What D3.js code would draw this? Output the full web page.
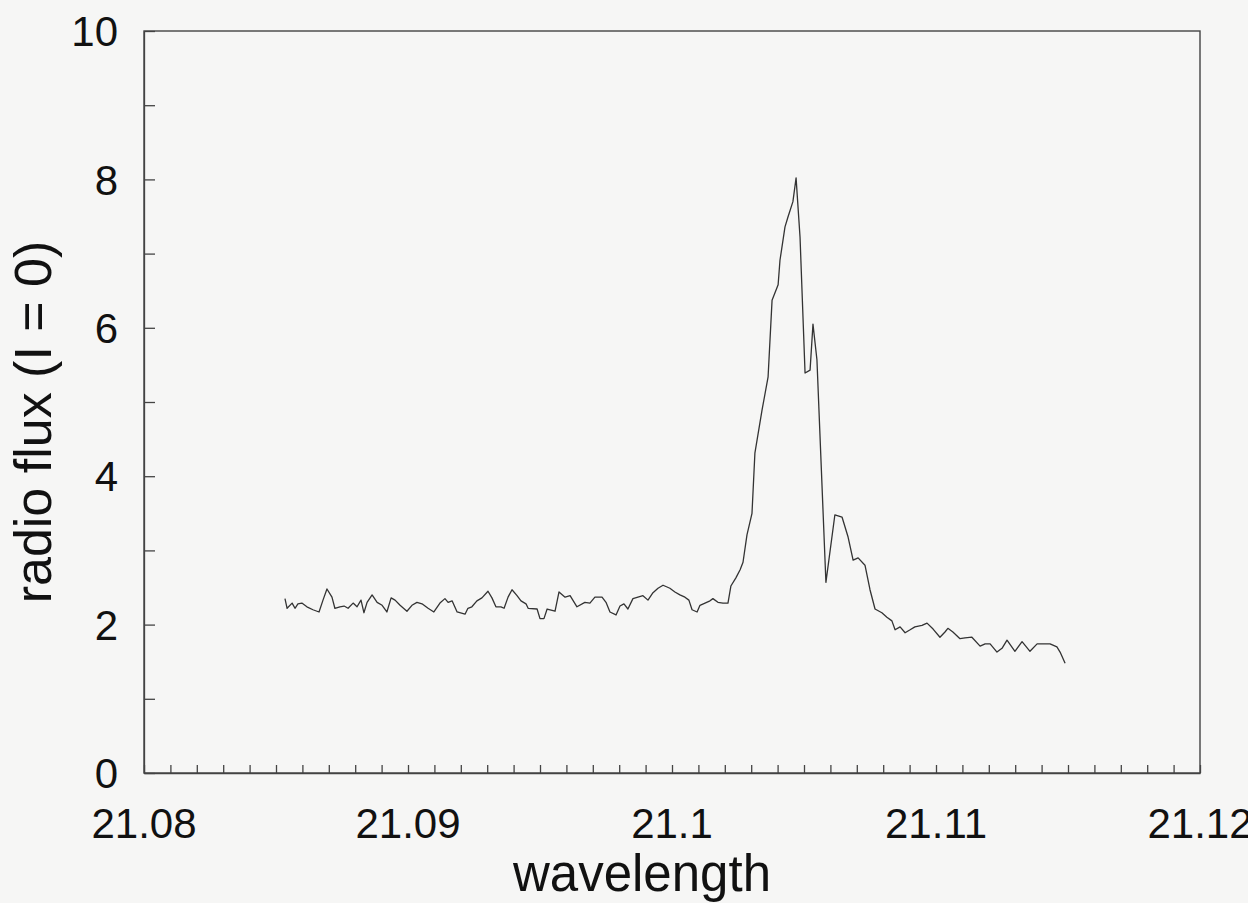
<!DOCTYPE html>
<html>
<head>
<meta charset="utf-8">
<script src="https://cdn.jsdelivr.net/npm/d3@7"></script>
<style>
    body { margin: 0; background: #f6f6f5; }
    svg { display: block; }
    text { font-family: "Liberation Sans", Arial, sans-serif; fill: #111; }
</style>
</head>
<body>
<svg width="1248" height="903"></svg>
<script>
// wavelength samples
const wavelength = [
    21.08534, 21.08542, 21.08561, 21.08572, 21.08583, 21.08598, 21.08617, 21.08640, 21.08663, 21.08678,
    21.08693, 21.08712, 21.08723, 21.08742, 21.08758, 21.08773, 21.08792, 21.08807, 21.08822, 21.08833,
    21.08845, 21.08864, 21.08883, 21.08902, 21.08920, 21.08936, 21.08951, 21.08970, 21.08996, 21.09015,
    21.09034, 21.09053, 21.09076, 21.09098, 21.09121, 21.09140, 21.09152, 21.09167, 21.09186, 21.09216,
    21.09227, 21.09242, 21.09261, 21.09280, 21.09303, 21.09318, 21.09333, 21.09352, 21.09364, 21.09379,
    21.09394, 21.09413, 21.09428, 21.09447, 21.09455, 21.09489, 21.09500, 21.09515, 21.09527, 21.09557,
    21.09572, 21.09595, 21.09614, 21.09640, 21.09670, 21.09689, 21.09708, 21.09735, 21.09750, 21.09765,
    21.09788, 21.09803, 21.09818, 21.09833, 21.09852, 21.09871, 21.09890, 21.09909, 21.09928, 21.09947,
    21.09966, 21.09992, 21.10011, 21.10030, 21.10049, 21.10064, 21.10076, 21.10095, 21.10106, 21.10125,
    21.10144, 21.10155, 21.10174, 21.10193, 21.10212, 21.10223, 21.10242, 21.10258, 21.10269, 21.10284,
    21.10303, 21.10314, 21.10341, 21.10364, 21.10379, 21.10402, 21.10409, 21.10428, 21.10439, 21.10458,
    21.10470, 21.10485, 21.10504, 21.10523, 21.10534, 21.10549, 21.10583, 21.10617, 21.10644, 21.10667,
    21.10686, 21.10705, 21.10731, 21.10750, 21.10769, 21.10795, 21.10814, 21.10833, 21.10845, 21.10864,
    21.10883, 21.10902, 21.10920, 21.10947, 21.10966, 21.10989, 21.11015, 21.11034, 21.11045, 21.11064,
    21.11091, 21.11110, 21.11136, 21.11167, 21.11186, 21.11205, 21.11231, 21.11250, 21.11269, 21.11299,
    21.11326, 21.11356, 21.11383, 21.11405, 21.11432, 21.11458, 21.11470, 21.11489
];
const flux = [
    2.35, 2.22, 2.29, 2.22, 2.28, 2.29, 2.24, 2.20, 2.17, 2.33,
    2.48, 2.37, 2.22, 2.24, 2.25, 2.22, 2.29, 2.24, 2.33, 2.16,
    2.30, 2.40, 2.30, 2.26, 2.17, 2.36, 2.33, 2.26, 2.18, 2.26,
    2.30, 2.28, 2.22, 2.17, 2.29, 2.35, 2.30, 2.32, 2.17, 2.14,
    2.22, 2.24, 2.32, 2.36, 2.45, 2.36, 2.24, 2.24, 2.22, 2.37,
    2.47, 2.39, 2.32, 2.28, 2.22, 2.21, 2.08, 2.08, 2.21, 2.18,
    2.44, 2.37, 2.39, 2.24, 2.30, 2.29, 2.37, 2.37, 2.30, 2.17,
    2.13, 2.25, 2.28, 2.21, 2.35, 2.37, 2.39, 2.33, 2.43, 2.49,
    2.53, 2.49, 2.44, 2.40, 2.37, 2.33, 2.20, 2.17, 2.26, 2.29,
    2.32, 2.35, 2.30, 2.29, 2.29, 2.52, 2.63, 2.74, 2.84, 3.21,
    3.50, 4.31, 4.89, 5.34, 6.37, 6.58, 6.91, 7.36, 7.49, 7.70,
    8.02, 7.22, 5.39, 5.43, 6.05, 5.57, 2.57, 3.48, 3.45, 3.18,
    2.87, 2.90, 2.80, 2.47, 2.21, 2.16, 2.10, 2.05, 1.93, 1.97,
    1.89, 1.93, 1.97, 1.99, 2.02, 1.94, 1.83, 1.90, 1.95, 1.90,
    1.81, 1.82, 1.83, 1.71, 1.74, 1.74, 1.63, 1.68, 1.79, 1.64,
    1.77, 1.64, 1.74, 1.74, 1.74, 1.70, 1.63, 1.48
];

const xMajorTicks = [21.08, 21.09, 21.1, 21.11, 21.12];
const yMajorTicks = [0, 2, 4, 6, 8, 10];

const data = wavelength.map((w, i) => ({ w: w, f: flux[i] }));

const svg = d3.select('svg');

const margin = { top: 31, right: 48, bottom: 130, left: 144 };
const innerWidth = 1248 - margin.left - margin.right;
const innerHeight = 903 - margin.top - margin.bottom;

// SCALES
const xScale = d3.scaleLinear()
    .domain([21.08, 21.12])
    .range([0, innerWidth]);
const yScale = d3.scaleLinear()
    .domain([0, 10])
    .range([innerHeight, 0]);

const g = svg.append('g')
    .attr('transform', `translate(${margin.left}, ${margin.top})`);

// minor ticks, pointing inward
const xAxis = d3.axisBottom(xScale)
    .tickValues(d3.range(0, 41).map(i => 21.08 + i * 0.001))
    .tickSizeInner(-8)
    .tickSizeOuter(0)
    .tickFormat('');
const yAxis = d3.axisLeft(yScale)
    .tickValues(d3.range(0, 11))
    .tickSizeInner(-11)
    .tickSizeOuter(0)
    .tickFormat('');

g.append('g')
    .attr('transform', `translate(0, ${innerHeight})`)
    .call(xAxis);
g.append('g').call(yAxis);

g.selectAll('.domain, .tick line')
    .attr('stroke', '#444')
    .attr('stroke-width', 1.3);

// frame
g.append('rect')
    .attr('width', innerWidth)
    .attr('height', innerHeight)
    .attr('fill', 'none')
    .attr('stroke', '#444')
    .attr('stroke-width', 1.4);

// tick labels
g.selectAll('.xlab')
    .data(xMajorTicks)
    .enter()
    .append('text')
        .attr('class', 'xlab')
        .attr('x', d => xScale(d))
        .attr('y', innerHeight + 65)
        .attr('text-anchor', 'middle')
        .style('font-size', '42px')
        .text(d => d3.format('')(+d.toFixed(2)));

g.selectAll('.ylab')
    .data(yMajorTicks)
    .enter()
    .append('text')
        .attr('class', 'ylab')
        .attr('x', -26)
        .attr('y', d => yScale(d))
        .attr('dy', '0.36em')
        .attr('text-anchor', 'end')
        .style('font-size', '42px')
        .text(d => d);

// axis titles
svg.append('text')
    .attr('x', 642)
    .attr('y', 891)
    .attr('text-anchor', 'middle')
    .style('font-size', '51px')
    .text('wavelength');

svg.append('text')
    .attr('transform', 'translate(51, 422) rotate(-90)')
    .attr('text-anchor', 'middle')
    .style('font-size', '52px')
    .text('radio flux (I = 0)');

// spectrum
const line = d3.line()
    .x(d => xScale(d.w))
    .y(d => yScale(d.f));

g.append('path')
    .datum(data)
    .attr('fill', 'none')
    .attr('stroke', '#333')
    .attr('stroke-width', 1.3)
    .attr('stroke-linejoin', 'round')
    .attr('d', line);
</script>
</body>
</html>
